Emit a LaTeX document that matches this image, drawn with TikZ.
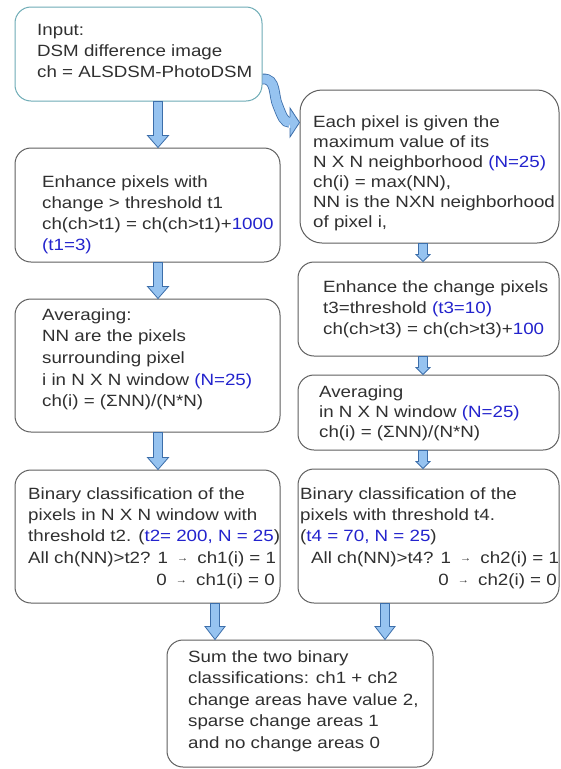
\documentclass[tikz,border=0pt]{standalone}
\usepackage{fontspec}
\setmainfont{Liberation Sans}[FakeStretch=1.15]
\usetikzlibrary{calc}
\definecolor{txtgray}{RGB}{48,48,48}
\definecolor{hlblue}{RGB}{35,35,205}
\definecolor{boxline}{RGB}{95,95,95}
\definecolor{tealline}{RGB}{110,172,182}
\definecolor{afill}{RGB}{150,195,240}
\definecolor{aline}{RGB}{60,110,170}
\newcommand\hlt[1]{\textcolor{hlblue}{#1}}
\newcommand\smarr{\makebox[19pt]{\raisebox{1.5pt}{\fontsize{10}{10}\selectfont →}}}
\newcommand\blockarrow[5]{%
  \filldraw[arrowsty] let \p1=(#1,0 |- #2), \p2=(#1,0 |- #3) in
  (\x1-4.5pt,\y1) -- (\x1-4.5pt,\y2+#5pt) -- (\x1-#4pt,\y2+#5pt) -- (\x1,\y2)
  -- (\x1+#4pt,\y2+#5pt) -- (\x1+4.5pt,\y2+#5pt) -- (\x1+4.5pt,\y1) -- cycle;}
\tikzset{
  box/.style={draw=boxline, line width=1pt, rounded corners=16pt, inner sep=0pt, fill=white},
  textblock/.style={anchor=north west, inner sep=0pt, align=left, text=txtgray,
    font=\fontsize{16.3}{21.5}\selectfont},
  arrowsty/.style={fill=afill, draw=aline, line width=0.8pt, line join=miter},
}
\begin{document}
\begin{tikzpicture}[x=1pt,y=-1pt]
\useasboundingbox (0,0) rectangle (561,769);
\fill[white] (0,0) rectangle (561,769);

% boxes
\node[box, draw=tealline, minimum width=247pt, minimum height=94pt] (in) at (138.5,54) {};
\node[box, minimum width=265pt, minimum height=114pt] (l1) at (147.5,205) {};
\node[box, minimum width=265pt, minimum height=133pt] (l2) at (147.5,365.5) {};
\node[box, minimum width=265pt, minimum height=133pt] (l3) at (147.5,536.5) {};
\node[box, rounded corners=22pt, minimum width=259pt, minimum height=153pt] (r1) at (429.5,166.5) {};
\node[box, minimum width=261pt, minimum height=94pt] (r2) at (428.5,309) {};
\node[box, minimum width=261pt, minimum height=75pt] (r3) at (428.5,412.5) {};
\node[box, minimum width=261pt, minimum height=134pt] (r4) at (428.5,536) {};
\node[box, minimum width=266pt, minimum height=127pt] (sum) at (300,703.5) {};

% texts
\node[textblock, font=\fontsize{16.3}{21}\selectfont] (tin) at (37,24)
  {Input:\\DSM difference image\\ch = ALSDSM-PhotoDSM};
\node[textblock, font=\fontsize{16.3}{21.3}\selectfont] (tl1) at (42,175)
  {Enhance pixels with\\change > threshold t1\\ch(ch>t1) = ch(ch>t1)+\hlt{1000}\\\hlt{(t1=3)}};
\node[textblock, font=\fontsize{16.3}{21.7}\selectfont] (tl2) at (42,308)
  {Averaging:\\NN are the pixels\\surrounding pixel\\i in N X N window \hlt{(N=25)}\\ch(i) = (ΣNN)/(N*N)};
\node[textblock, font=\fontsize{16.3}{21.4}\selectfont] (tl3) at (28,487)
  {Binary classification of the\\pixels in N X N window with\\threshold t2. (\hlt{t2= 200, N = 25})\\All ch(NN)>t2? 1 \smarr{} ch1(i) = 1};
\node[anchor=base east, inner sep=0pt, text=txtgray, font=\fontsize{16.3}{21.4}\selectfont] (tl3b) at (275,585)
  {0 \smarr{} ch1(i) = 0};
\node[textblock, font=\fontsize{16.3}{20}\selectfont] (tr1) at (313,115)
  {Each pixel is given the\\maximum value of its\\N X N neighborhood \hlt{(N=25)}\\ch(i) = max(NN),\\NN is the NXN neighborhood\\of pixel i,};
\node[textblock, font=\fontsize{16.3}{21}\selectfont] (tr2) at (323,280)
  {Enhance the change pixels\\t3=threshold \hlt{(t3=10)}\\ch(ch>t3) = ch(ch>t3)+\hlt{100}};
\node[textblock, font=\fontsize{16.3}{20}\selectfont] (tr3) at (319,385)
  {Averaging\\in N X N window \hlt{(N=25)}\\ch(i) = (ΣNN)/(N*N)};
\node[textblock, font=\fontsize{16.3}{21.4}\selectfont] (tr4) at (300,487)
  {Binary classification of the\\pixels with threshold t4.\\(\hlt{t4 = 70, N = 25})\\\hspace*{11pt}All ch(NN)>t4? 1 \smarr{} ch2(i) = 1};
\node[anchor=base east, inner sep=0pt, text=txtgray, font=\fontsize{16.3}{21.4}\selectfont] (tr4b) at (557,585)
  {0 \smarr{} ch2(i) = 0};
\node[textblock, font=\fontsize{16.3}{21.6}\selectfont] (tsum) at (188,650)
  {Sum the two binary\\classifications: ch1 + ch2\\change areas have value 2,\\sparse change areas 1\\and no change areas 0};

% straight block arrows
\blockarrow{158}{in.south}{l1.north}{10.5}{12}
\blockarrow{158}{l1.south}{l2.north}{10.5}{12}
\blockarrow{158}{l2.south}{l3.north}{10.5}{12}
\blockarrow{423}{r1.south}{r2.north}{7}{7}
\blockarrow{423}{r2.south}{r3.north}{7}{7}
\blockarrow{423}{r3.south}{r4.north}{7}{7}
\blockarrow{215}{l3.south}{sum.north}{10}{13}
\blockarrow{385}{r4.south}{sum.north}{10}{13}

% curved arrow from input to r1
\coordinate (cs) at (in.east |- 0,79);
\coordinate (ct) at (r1.west |- 0,122.5);
\draw[draw=aline, double=afill, double distance=9pt, line width=0.8pt]
  (cs) .. controls (277,78) and (273,96) .. (278,106)
  .. controls (282,116) and (284,122.5) .. (290,122.5);
\fill[afill] (290,108) -- (ct) -- (290,137) -- cycle;
\draw[aline, line width=0.8pt, line join=miter]
  (290,117.2) -- (290,108) -- (ct) -- (290,137) -- (290,127.8);
\end{tikzpicture}
\end{document}
